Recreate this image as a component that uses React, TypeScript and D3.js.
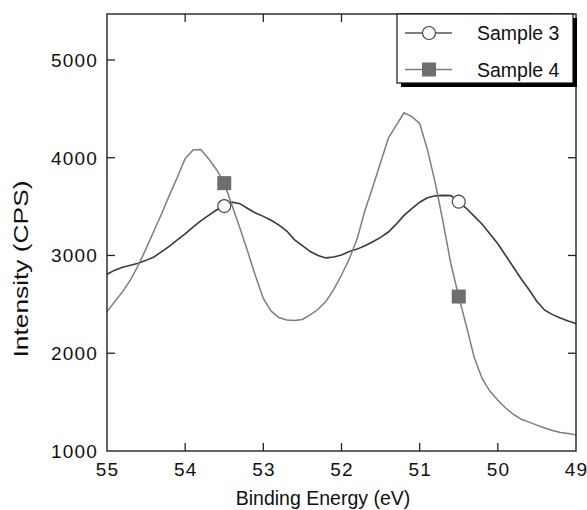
import React, { useRef, useEffect } from 'react';
import * as d3 from 'd3';

// binding energy (eV), 0.1 eV steps
const energy = [
  55.0, 54.9, 54.8, 54.7, 54.6, 54.5, 54.4, 54.3, 54.2, 54.1,
  54.0, 53.9, 53.8, 53.7, 53.6, 53.5, 53.4, 53.3, 53.2, 53.1,
  53.0, 52.9, 52.8, 52.7, 52.6, 52.5, 52.4, 52.3, 52.2, 52.1,
  52.0, 51.9, 51.8, 51.7, 51.6, 51.5, 51.4, 51.3, 51.2, 51.1,
  51.0, 50.9, 50.8, 50.7, 50.6, 50.5, 50.4, 50.3, 50.2, 50.1,
  50.0, 49.9, 49.8, 49.7, 49.6, 49.5, 49.4, 49.3, 49.2, 49.1,
  49.0,
];

const sample3 = [
  2808, 2850, 2880, 2900, 2920, 2950, 2985, 3040, 3095, 3160,
  3220, 3290, 3355, 3410, 3465, 3505, 3545, 3530, 3480, 3435,
  3400, 3360, 3310, 3250, 3160, 3100, 3040, 3000, 2975, 2985,
  3005, 3040, 3065, 3100, 3140, 3185, 3240, 3320, 3410, 3480,
  3545, 3590, 3610, 3615, 3612, 3550, 3480, 3400, 3320, 3220,
  3120, 3000, 2880, 2760, 2650, 2530, 2440, 2395, 2360, 2330,
  2305,
];

const sample4 = [
  2426, 2530, 2630, 2750, 2900, 3070, 3250, 3430, 3620, 3800,
  3990, 4080, 4085, 3990, 3880, 3740, 3510, 3280, 3040, 2790,
  2560, 2430, 2365, 2340, 2335, 2345, 2392, 2450, 2530, 2650,
  2800, 2965, 3170, 3460, 3700, 3950, 4200, 4330, 4460, 4420,
  4350, 4080, 3740, 3340, 2910, 2580, 2270, 1950, 1740, 1610,
  1520, 1440, 1375, 1325, 1295, 1265, 1235, 1210, 1190, 1180,
  1165,
];

// energies where the markers sit
const markerEnergies = [53.5, 50.5];

const xTickLabels = [55, 54, 53, 52, 51, 50, 49];
const yTickLabels = [1000, 2000, 3000, 4000, 5000];
const legendLabels = ['Sample 3', 'Sample 4'];

const FONT = '"Liberation Sans", Arial, Helvetica, sans-serif';

const App = () => {
  const ref = useRef<SVGSVGElement>(null);

  useEffect(() => {
    const svg = d3.select(ref.current);
    svg.selectAll('*').remove();

    const left = 107, right = 576, top = 14, bottom = 451;

    const x = d3.scaleLinear().domain([55, 49]).range([left, right]);
    const y = d3.scaleLinear().domain([1000, 5470]).range([bottom, top]);

    const c3 = '#3a3a3a';
    const c4 = '#7e7e7e';

    const line = d3.line<number>()
      .x((_, i) => x(energy[i]))
      .y(d => y(d));

    svg.append('path')
      .attr('d', line(sample3))
      .attr('fill', 'none')
      .attr('stroke', c3)
      .attr('stroke-width', 1.6);

    svg.append('path')
      .attr('d', line(sample4))
      .attr('fill', 'none')
      .attr('stroke', c4)
      .attr('stroke-width', 1.5);

    const valAt = (arr: number[], e: number) =>
      arr[energy.findIndex(v => Math.abs(v - e) < 1e-6)];

    // circles on sample 3
    svg.selectAll('.m3')
      .data(markerEnergies)
      .enter()
      .append('circle')
      .attr('cx', d => x(d))
      .attr('cy', d => y(valAt(sample3, d)))
      .attr('r', 6.5)
      .attr('fill', 'white')
      .attr('stroke', '#444')
      .attr('stroke-width', 1.2);

    // squares on sample 4
    svg.selectAll('.m4')
      .data(markerEnergies)
      .enter()
      .append('rect')
      .attr('x', d => x(d) - 7)
      .attr('y', d => y(valAt(sample4, d)) - 7)
      .attr('width', 14)
      .attr('height', 14)
      .attr('fill', '#6e6e6e');

    // frame
    svg.append('rect')
      .attr('x', left)
      .attr('y', top)
      .attr('width', right - left)
      .attr('height', bottom - top)
      .attr('fill', 'none')
      .attr('stroke', '#222')
      .attr('stroke-width', 1.4);

    // inner ticks, mirrored
    const tl = 8;
    const xin = xTickLabels.slice(1, -1);
    const yin = yTickLabels.slice(1);
    xin.forEach(v => {
      svg.append('line').attr('x1', x(v)).attr('x2', x(v))
        .attr('y1', bottom).attr('y2', bottom - tl)
        .attr('stroke', '#222').attr('stroke-width', 1.3);
      svg.append('line').attr('x1', x(v)).attr('x2', x(v))
        .attr('y1', top).attr('y2', top + tl)
        .attr('stroke', '#222').attr('stroke-width', 1.3);
    });
    yin.forEach(v => {
      svg.append('line').attr('x1', left).attr('x2', left + tl)
        .attr('y1', y(v)).attr('y2', y(v))
        .attr('stroke', '#222').attr('stroke-width', 1.3);
      svg.append('line').attr('x1', right).attr('x2', right - tl)
        .attr('y1', y(v)).attr('y2', y(v))
        .attr('stroke', '#222').attr('stroke-width', 1.3);
    });

    // tick labels
    svg.selectAll('.xl')
      .data(xTickLabels)
      .enter()
      .append('text')
      .attr('x', d => x(d) + 0.6)
      .attr('y', 476)
      .attr('text-anchor', 'middle')
      .style('font-family', FONT)
      .style('font-size', '19px')
      .style('letter-spacing', '1.2px')
      .attr('fill', '#111')
      .text(d => d);

    svg.selectAll('.yl')
      .data(yTickLabels)
      .enter()
      .append('text')
      .attr('x', 98)
      .attr('y', d => y(d) + 7)
      .attr('text-anchor', 'end')
      .style('font-family', FONT)
      .style('font-size', '19px')
      .style('letter-spacing', '1.2px')
      .attr('fill', '#111')
      .text(d => d);

    // axis titles
    svg.append('text')
      .attr('x', 323)
      .attr('y', 505)
      .attr('text-anchor', 'middle')
      .style('font-family', FONT)
      .style('font-size', '19.5px')
      .attr('fill', '#111')
      .text('Binding Energy (eV)');

    svg.append('text')
      .attr('transform', 'translate(28, 269) rotate(-90)')
      .attr('text-anchor', 'middle')
      .attr('textLength', 177)
      .attr('lengthAdjust', 'spacingAndGlyphs')
      .style('font-family', FONT)
      .style('font-size', '20px')
      .attr('fill', '#111')
      .text('Intensity (CPS)');

    // legend with drop shadow
    const lg = svg.append('g');
    lg.append('rect')
      .attr('x', 401).attr('y', 18).attr('width', 176).attr('height', 69)
      .attr('fill', '#000');
    lg.append('rect')
      .attr('x', 397).attr('y', 14).attr('width', 176).attr('height', 69)
      .attr('fill', 'white')
      .attr('stroke', '#111')
      .attr('stroke-width', 1.2);

    const rows = [33, 69.5];
    legendLabels.forEach((lab, i) => {
      const ry = rows[i];
      lg.append('line')
        .attr('x1', 405).attr('x2', 452).attr('y1', ry).attr('y2', ry)
        .attr('stroke', i === 0 ? '#555' : c4)
        .attr('stroke-width', 1.4);
      if (i === 0) {
        lg.append('circle')
          .attr('cx', 429).attr('cy', ry).attr('r', 6.5)
          .attr('fill', 'white').attr('stroke', '#444').attr('stroke-width', 1.2);
      } else {
        lg.append('rect')
          .attr('x', 422).attr('y', ry - 7).attr('width', 14).attr('height', 14)
          .attr('fill', '#6e6e6e');
      }
      lg.append('text')
        .attr('x', 477)
        .attr('y', ry + 7)
        .style('font-family', FONT)
        .style('font-size', '19.5px')
        .attr('fill', '#111')
        .text(lab);
    });
  }, []);

  return (
    <svg
      ref={ref}
      width={587}
      height={510}
      style={{ position: 'absolute', left: 0, top: 0, background: 'white' }}
    />
  );
};

export default App;
